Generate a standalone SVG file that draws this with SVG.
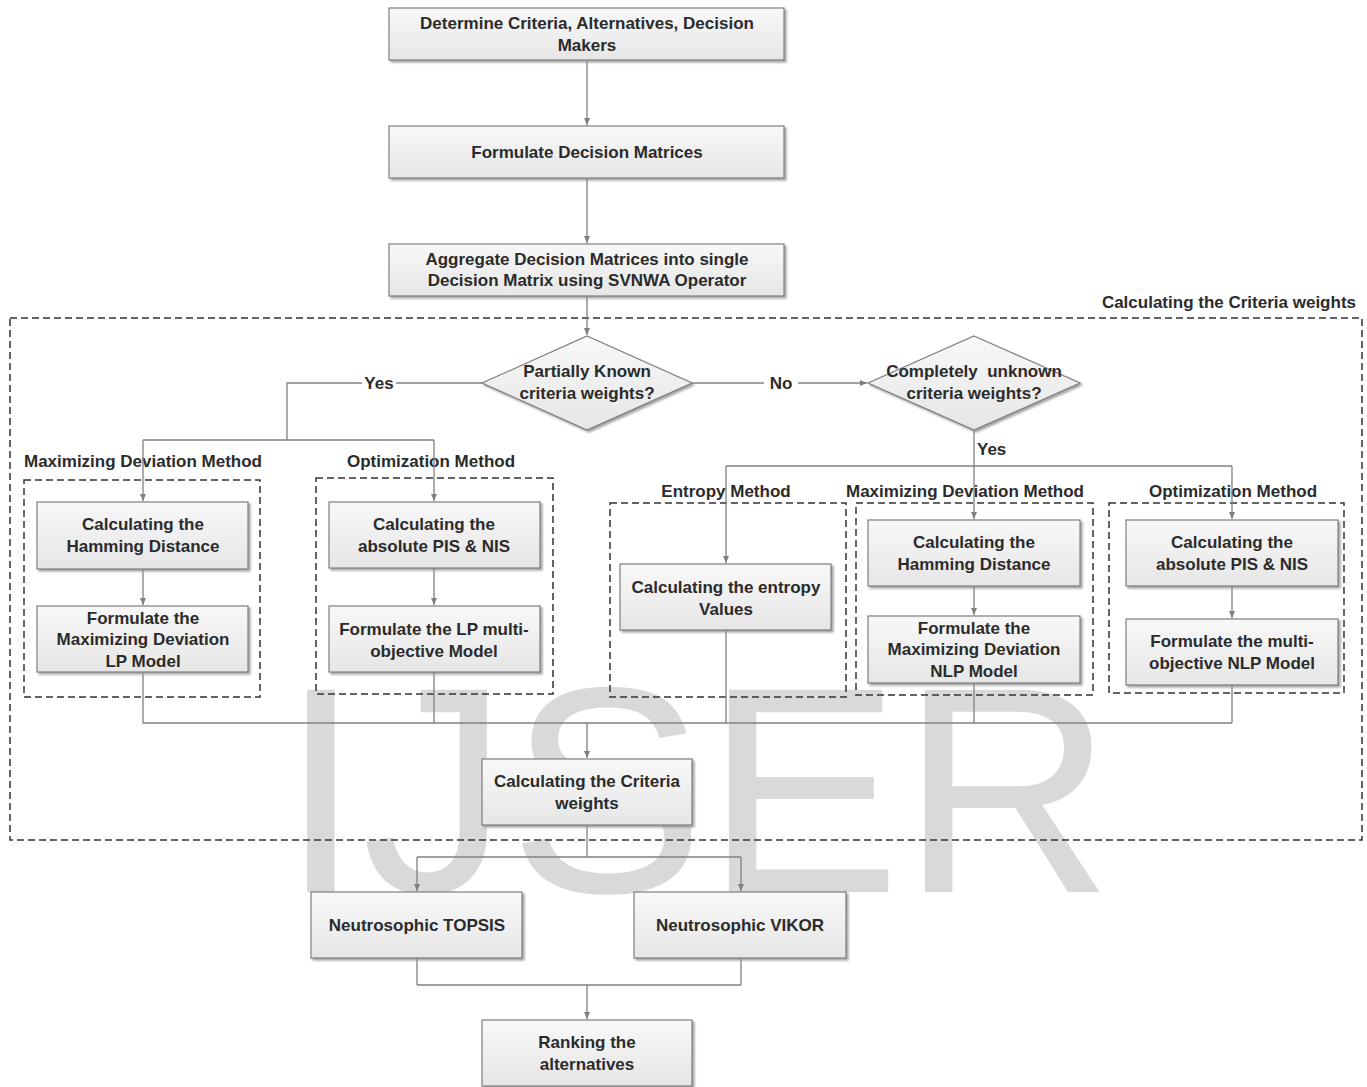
<svg xmlns="http://www.w3.org/2000/svg" width="1367" height="1087" viewBox="0 0 1367 1087">
<defs>
<linearGradient id="g" x1="0" y1="0" x2="0" y2="1">
<stop offset="0" stop-color="#f8f8f8"/>
<stop offset="1" stop-color="#e6e6e6"/>
</linearGradient>
<filter id="sh" x="-5%" y="-5%" width="115%" height="130%">
<feDropShadow dx="2" dy="2" stdDeviation="1" flood-color="#8c8c8c" flood-opacity="0.8"/>
</filter>
<marker id="ar" markerWidth="8" markerHeight="8" refX="7" refY="4" orient="auto" markerUnits="userSpaceOnUse">
<path d="M0,1 L7,4 L0,7 Z" fill="#7f7f7f"/>
</marker>
</defs>
<style>
.box{fill:url(#g);stroke:#7f7f7f;stroke-width:1.2;filter:url(#sh)}
.t{font-family:"Liberation Sans",Arial,sans-serif;font-weight:bold;font-size:17px;fill:#2b2b2b;text-anchor:middle}
.lbl{font-family:"Liberation Sans",Arial,sans-serif;font-weight:bold;font-size:17px;fill:#2b2b2b;text-anchor:middle}
.c{fill:none;stroke:#808080;stroke-width:1.3}
.ca{fill:none;stroke:#808080;stroke-width:1.3;marker-end:url(#ar)}
.dash{fill:none;stroke:#333;stroke-width:1.5;stroke-dasharray:7 4}
.wm{font-family:"Liberation Sans",Arial,sans-serif;font-size:294px;fill:#d9d9d9}
</style>
<rect width="1367" height="1087" fill="#fff"/>
<text class="wm" x="280" y="892">IJSER</text>

<g id="groups">
<rect id="outer-group" class="dash" x="10" y="318" width="1352" height="522"/>
<text class="lbl" x="1356" y="308" style="text-anchor:end">Calculating the Criteria weights</text>
<rect id="g-maxdev-left" class="dash" x="24" y="480" width="236" height="217"/>
<text class="lbl" x="143" y="467">Maximizing Deviation Method</text>
<rect id="g-opt-left" class="dash" x="316" y="478" width="237" height="216"/>
<text class="lbl" x="431" y="467">Optimization Method</text>
<rect id="g-entropy" class="dash" x="610" y="503" width="236" height="194"/>
<text class="lbl" x="726" y="497">Entropy Method</text>
<rect id="g-maxdev-right" class="dash" x="856" y="503" width="237" height="192"/>
<text class="lbl" x="965" y="497">Maximizing Deviation Method</text>
<rect id="g-opt-right" class="dash" x="1109" y="503" width="235" height="190"/>
<text class="lbl" x="1233" y="497">Optimization Method</text>
</g>

<g id="connectors">
<line class="ca" x1="587" y1="60" x2="587" y2="125"/>
<line class="ca" x1="587" y1="178" x2="587" y2="243"/>
<line class="ca" x1="587" y1="296" x2="587" y2="335"/>
<line class="ca" x1="692" y1="383" x2="867" y2="383"/>
<polyline class="c" points="482,383 287,383 287,440"/>
<line class="c" x1="143" y1="440" x2="434" y2="440"/>
<line class="ca" x1="143" y1="440" x2="143" y2="501"/>
<line class="ca" x1="434" y1="440" x2="434" y2="501"/>
<line class="c" x1="974" y1="430" x2="974" y2="466"/>
<line class="c" x1="726" y1="466" x2="1232" y2="466"/>
<line class="ca" x1="726" y1="466" x2="726" y2="563"/>
<line class="ca" x1="974" y1="466" x2="974" y2="519"/>
<line class="ca" x1="1232" y1="466" x2="1232" y2="519"/>
<line class="ca" x1="143" y1="569" x2="143" y2="605"/>
<line class="ca" x1="434" y1="568" x2="434" y2="605"/>
<line class="ca" x1="974" y1="586" x2="974" y2="615"/>
<line class="ca" x1="1232" y1="586" x2="1232" y2="618"/>
<line class="c" x1="143" y1="672" x2="143" y2="723"/>
<line class="c" x1="434" y1="672" x2="434" y2="723"/>
<line class="c" x1="726" y1="630" x2="726" y2="723"/>
<line class="c" x1="974" y1="683" x2="974" y2="723"/>
<line class="c" x1="1232" y1="685" x2="1232" y2="723"/>
<line class="c" x1="143" y1="723" x2="1232" y2="723"/>
<line class="ca" x1="587" y1="723" x2="587" y2="758"/>
<line class="c" x1="587" y1="825" x2="587" y2="857"/>
<line class="c" x1="417" y1="857" x2="741" y2="857"/>
<line class="ca" x1="417" y1="857" x2="417" y2="891"/>
<line class="ca" x1="741" y1="857" x2="741" y2="891"/>
<line class="c" x1="417" y1="958" x2="417" y2="985"/>
<line class="c" x1="741" y1="958" x2="741" y2="985"/>
<line class="c" x1="417" y1="985" x2="741" y2="985"/>
<line class="ca" x1="587" y1="985" x2="587" y2="1019"/>
<rect x="764" y="372" width="34" height="22" fill="#fff"/>
<text class="lbl" x="781" y="389">No</text>
<rect x="362" y="372" width="34" height="22" fill="#fff"/>
<text class="lbl" x="379" y="389">Yes</text>
<text class="lbl" x="977" y="455" style="text-anchor:start">Yes</text>
</g>

<g id="n-determine"><rect class="box" x="389" y="8" width="395" height="52"/>
<text class="t" x="587" y="29">Determine Criteria, Alternatives, Decision</text><text class="t" x="587" y="51">Makers</text></g>
<g id="n-formulate"><rect class="box" x="389" y="126" width="395" height="52"/>
<text class="t" x="587" y="158">Formulate Decision Matrices</text></g>
<g id="n-aggregate"><rect class="box" x="389" y="244" width="395" height="52"/>
<text class="t" x="587" y="265">Aggregate Decision Matrices into single</text><text class="t" x="587" y="286">Decision Matrix using SVNWA Operator</text></g>
<g id="n-partial"><polygon class="box" points="587,336 692,383 587,430 482,383"/>
<text class="t" x="587" y="377">Partially Known</text><text class="t" x="587" y="399">criteria weights?</text></g>
<g id="n-complete"><polygon class="box" points="974,336 1080,383 974,430 868,383"/>
<text class="t" x="974" y="377" xml:space="preserve">Completely  unknown</text><text class="t" x="974" y="399">criteria weights?</text></g>
<g id="n-hamming-left"><rect class="box" x="37" y="502" width="211" height="67"/>
<text class="t" x="143" y="530">Calculating the</text><text class="t" x="143" y="552">Hamming Distance</text></g>
<g id="n-lp-left"><rect class="box" x="37" y="606" width="211" height="66"/>
<text class="t" x="143" y="624">Formulate the</text><text class="t" x="143" y="645">Maximizing Deviation</text><text class="t" x="143" y="667">LP Model</text></g>
<g id="n-pis-left"><rect class="box" x="329" y="502" width="211" height="66"/>
<text class="t" x="434" y="530">Calculating the</text><text class="t" x="434" y="552">absolute PIS &amp; NIS</text></g>
<g id="n-lpmulti-left"><rect class="box" x="329" y="606" width="211" height="66"/>
<text class="t" x="434" y="635">Formulate the LP multi-</text><text class="t" x="434" y="657">objective Model</text></g>
<g id="n-entropy"><rect class="box" x="620" y="564" width="211" height="66"/>
<text class="t" x="726" y="593">Calculating the entropy</text><text class="t" x="726" y="615">Values</text></g>
<g id="n-hamming-right"><rect class="box" x="868" y="520" width="212" height="66"/>
<text class="t" x="974" y="548">Calculating the</text><text class="t" x="974" y="570">Hamming Distance</text></g>
<g id="n-nlp-right"><rect class="box" x="868" y="616" width="212" height="67"/>
<text class="t" x="974" y="634">Formulate the</text><text class="t" x="974" y="655">Maximizing Deviation</text><text class="t" x="974" y="677">NLP Model</text></g>
<g id="n-pis-right"><rect class="box" x="1126" y="520" width="212" height="66"/>
<text class="t" x="1232" y="548">Calculating the</text><text class="t" x="1232" y="570">absolute PIS &amp; NIS</text></g>
<g id="n-nlpmulti-right"><rect class="box" x="1126" y="619" width="212" height="66"/>
<text class="t" x="1232" y="647">Formulate the multi-</text><text class="t" x="1232" y="669">objective NLP Model</text></g>
<g id="n-weights"><rect class="box" x="482" y="759" width="210" height="66"/>
<text class="t" x="587" y="787">Calculating the Criteria</text><text class="t" x="587" y="809">weights</text></g>
<g id="n-topsis"><rect class="box" x="311" y="892" width="211" height="66"/>
<text class="t" x="417" y="931">Neutrosophic TOPSIS</text></g>
<g id="n-vikor"><rect class="box" x="634" y="892" width="212" height="66"/>
<text class="t" x="740" y="931">Neutrosophic VIKOR</text></g>
<g id="n-ranking"><rect class="box" x="482" y="1020" width="210" height="66"/>
<text class="t" x="587" y="1048">Ranking the</text><text class="t" x="587" y="1070">alternatives</text></g>
</svg>
